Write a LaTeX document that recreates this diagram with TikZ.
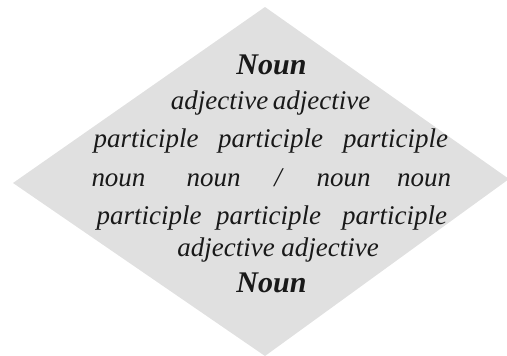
\documentclass[tikz,border=0pt]{standalone}
\usepackage{fontspec}
\setmainfont{Liberation Serif}[ItalicFont={Liberation Serif Italic},BoldItalicFont={Liberation Serif Bold Italic},BoldFont={Liberation Serif Bold}]
\begin{document}
\begin{tikzpicture}[x=1pt,y=1pt,
  word/.style={inner sep=0pt,anchor=base,text=black!90,font=\rmfamily\fontsize{27}{30}\selectfont\itshape},
  bigword/.style={inner sep=0pt,anchor=base,text=black!90,font=\rmfamily\fontsize{30}{34}\selectfont\bfseries\itshape}]
\useasboundingbox (0,0) rectangle (507,356);
\fill[black!12] (265,349) coordinate (T) -- (13,173) coordinate (L) -- (265,0) coordinate (B) -- (509,177) coordinate (R) -- cycle;
\node[bigword] (n1) at (271.5,281) {Noun};
\node[word] (a1) at (219.5,246) {adjective};
\node[word] (a2) at (321.5,246) {adjective};
\node[word] (p1) at (146,208) {participle};
\node[word] (p2) at (270.5,208) {participle};
\node[word] (p3) at (395.5,208) {participle};
\node[word] (w1) at (118.5,169) {noun};
\node[word] (w2) at (213.5,169) {noun};
\node[word] (sl) at (278,169) {/};
\node[word] (w3) at (343.5,169) {noun};
\node[word] (w4) at (424,169) {noun};
\node[word] (q1) at (149,131) {participle};
\node[word] (q2) at (268.5,131) {participle};
\node[word] (q3) at (394.5,131) {participle};
\node[word] (b1) at (226,99) {adjective};
\node[word] (b2) at (330,99) {adjective};
\node[bigword] (n2) at (271.5,63) {Noun};
\end{tikzpicture}
\end{document}
